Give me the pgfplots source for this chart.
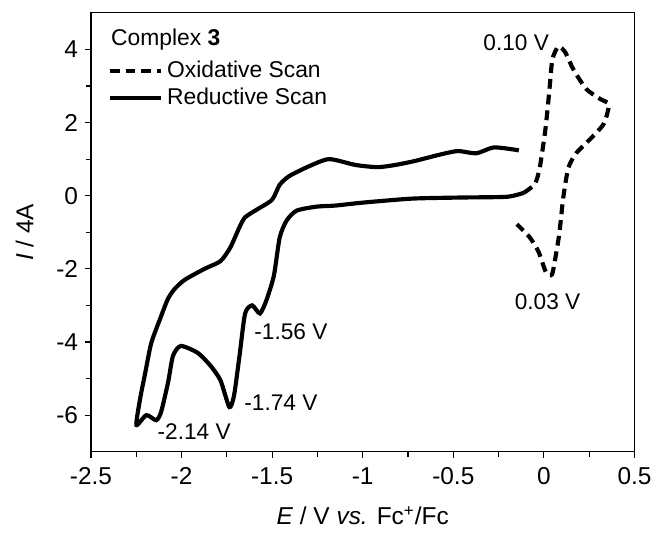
\documentclass[border=0pt]{standalone}
\usepackage{fontspec}
\setmainfont{Liberation Sans}
\usepackage{pgfplots}
\pgfplotsset{compat=1.18}
\begin{document}
\fontsize{11.5}{13.8}\selectfont
\begin{tikzpicture}
\begin{axis}[
  scale only axis, width=275bp, height=222bp,
  xmin=-2.5, xmax=0.5, ymin=-7, ymax=5,
  xtick={-2.5,-2,...,0.5}, ytick={-6,-4,...,4},
  minor x tick num=1, minor y tick num=1,
  tick pos=left, tick align=outside,
  major tick length=3bp, minor tick length=2.5bp,
  every tick/.style={line width=0.6bp, black},
  axis line style={line width=0.6bp},
  /pgf/number format/assume math mode=true,
  ticklabel style={font=\fontsize{12.4}{14.6}\selectfont},
  xticklabel style={yshift=-1bp},
  yticklabel style={xshift=0.5bp},
  xlabel={\textit{E} / V \textit{vs.} Fc\textsuperscript{+}/Fc},
  ylabel={\textit{I} / 4A},
  label style={font=\fontsize{12.4}{14.6}\selectfont},
  xlabel style={at={(axis description cs:0.5,-0.146)}, anchor=center},
  ylabel style={at={(axis description cs:-0.122,0.5)}, anchor=center},
  legend style={draw=none, fill=none, at={(axis description cs:0.03,0.9)}, anchor=north west, inner sep=0pt, row sep=-0.6bp, font=\fontsize{11.6}{13.6}\selectfont},
  legend cell align=left,
  legend image code/.code={\draw[#1] (0bp,0bp) -- (26bp,0bp);},
]
\addplot[black, line width=2.1bp, dash pattern=on 5bp off 3bp, smooth, tension=0.4] coordinates {
(-0.11,0.08) (-0.05,0.32) (-0.023,0.76) (0.009,1.84) (0.031,2.92) (0.047,3.73) (0.08,4.08) (0.118,3.92) (0.162,3.46) (0.233,2.92) (0.309,2.65) (0.358,2.49) (0.331,1.97) (0.26,1.57) (0.178,1.16) (0.135,0.76) (0.107,-0.05) (0.086,-1.0) (0.069,-1.54) (0.045,-2.15) (0.012,-2.1) (-0.029,-1.54) (-0.078,-1.14) (-0.149,-0.78)
};
\addlegendentry{Oxidative Scan}
\addplot[black, line width=2.1bp, smooth, tension=0.4] coordinates {
(-0.11,0.08) (-0.204,-0.03) (-0.454,-0.05) (-0.727,-0.08) (-1.0,-0.19) (-1.15,-0.27) (-1.256,-0.30) (-1.365,-0.41) (-1.42,-0.68) (-1.458,-1.14) (-1.49,-2.18) (-1.53,-2.84) (-1.567,-3.22) (-1.61,-3.0) (-1.649,-3.22) (-1.68,-4.38) (-1.71,-5.46) (-1.736,-5.78) (-1.785,-5.05) (-1.84,-4.65) (-1.91,-4.3) (-2.004,-4.11) (-2.047,-4.38) (-2.074,-5.1) (-2.113,-5.92) (-2.14,-6.14) (-2.194,-6.0) (-2.249,-6.27) (-2.228,-5.54) (-2.2,-4.84) (-2.167,-4.03) (-2.113,-3.3) (-2.074,-2.81) (-2.036,-2.54) (-1.982,-2.3) (-1.873,-2.0) (-1.785,-1.79) (-1.73,-1.41) (-1.68,-0.86) (-1.649,-0.59) (-1.584,-0.38) (-1.50,-0.11) (-1.458,0.30) (-1.404,0.54) (-1.294,0.81) (-1.185,1.0) (-1.04,0.84) (-0.918,0.78) (-0.82,0.84) (-0.711,0.95) (-0.585,1.11) (-0.476,1.22) (-0.373,1.16) (-0.274,1.32) (-0.138,1.24)
};
\addlegendentry{Reductive Scan}
\node[anchor=west, inner sep=0pt, font=\fontsize{11.6}{13.6}\selectfont] at (axis cs:-2.39,4.28) {Complex \textbf{3}};
\node[anchor=east, inner sep=0pt] at (axis cs:0.03,4.19) {0.10 V};
\node[anchor=center, inner sep=0pt] at (axis cs:0.02,-2.89) {0.03 V};
\node[anchor=west, inner sep=0pt] at (axis cs:-1.60,-3.73) {-1.56 V};
\node[anchor=west, inner sep=0pt] at (axis cs:-1.655,-5.65) {-1.74 V};
\node[anchor=west, inner sep=0pt] at (axis cs:-2.134,-6.46) {-2.14 V};
\end{axis}
\path[use as bounding box] (-46bp,-37.5bp) rectangle (283.5bp,228.5bp);
\end{tikzpicture}
\end{document}
